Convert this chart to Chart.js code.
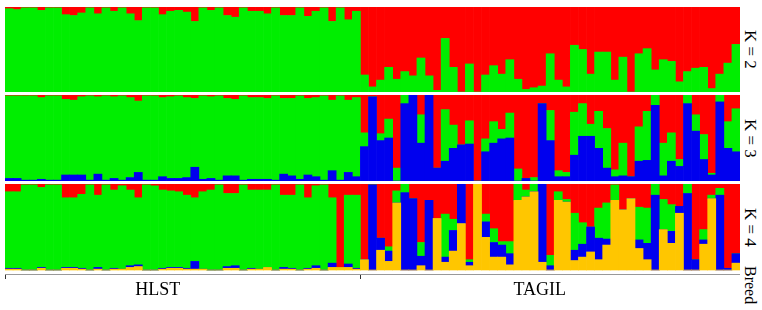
<!DOCTYPE html>
<html>
<head>
<meta charset="utf-8">
<script src="https://cdn.jsdelivr.net/npm/chart.js@4.4.1/dist/chart.umd.min.js"></script>
<style>
  body { margin: 0; background: #fff; width: 762px; height: 310px; position: relative; overflow: hidden; }
  canvas { position: absolute; }
  .klab { position: absolute; left: 741px; width: 18px; line-height: 18px; writing-mode: vertical-rl;
          text-align: center; font-family: "Liberation Serif", serif; font-size: 17px; color: #000; }
</style>
</head>
<body>
<canvas id="k2" width="735" height="85" style="left:5px;top:7px"></canvas>
<canvas id="k3" width="735" height="86" style="left:5px;top:95px"></canvas>
<canvas id="k4" width="735" height="126" style="left:5px;top:184px"></canvas>
<div class="klab" style="top:7px;height:85px">K = 2</div>
<div class="klab" style="top:95px;height:86px">K = 3</div>
<div class="klab" style="top:184px;height:86px">K = 4</div>
<div class="klab" style="top:266px;height:42px;font-size:16px;text-align:left">Breed</div>
<script>
'use strict';

var breeds = ['HLST', 'TAGIL'];
// where the breed names sit along the individuals axis (in bar index units)
var breedLabelAt = [18.4, 65.7];

// K = 2 (bottom to top: green, red)
var hlstK2Green = [0.98,0.97,0.99,0.99,0.96,0.99,0.99,0.91,0.9,0.93,0.99,0.92,0.99,0.95,0.99,0.92,0.84,0.99,0.99,0.91,0.95,0.96,0.94,0.83,0.99,0.96,0.99,0.9,0.88,0.99,0.95,0.95,0.92,0.99,0.9,0.9,0.99,0.89,0.95,0.99,0.83,0.99,0.85,0.95];
var hlstK2Red = [0.02,0.03,0.01,0.01,0.04,0.01,0.01,0.09,0.1,0.07,0.01,0.08,0.01,0.05,0.01,0.08,0.16,0.01,0.01,0.09,0.05,0.04,0.06,0.17,0.01,0.04,0.01,0.1,0.12,0.01,0.05,0.05,0.08,0.01,0.1,0.1,0.01,0.11,0.05,0.01,0.17,0.01,0.15,0.05];
var tagilK2Green = [0.2,0.06,0.14,0.29,0.15,0.24,0.19,0.4,0.19,0.02,0.63,0.29,0,0.33,0,0.2,0.31,0.21,0.38,0.15,0.03,0.05,0.07,0.45,0.14,0.06,0.55,0.5,0.21,0.47,0.47,0.14,0.41,0,0.45,0.51,0.26,0.38,0.36,0.12,0.24,0.28,0.29,0.04,0.21,0.34,0.56];
var tagilK2Red = [0.8,0.94,0.86,0.71,0.85,0.76,0.81,0.6,0.81,0.98,0.37,0.71,1,0.67,1,0.8,0.69,0.79,0.62,0.85,0.97,0.95,0.93,0.55,0.86,0.94,0.45,0.5,0.79,0.53,0.53,0.86,0.59,1,0.55,0.49,0.74,0.62,0.64,0.88,0.76,0.72,0.71,0.96,0.79,0.66,0.44];

// K = 3 (bottom to top: blue, green, red)
var hlstK3Blue = [0.03,0.03,0.01,0.01,0.02,0.01,0.01,0.07,0.07,0.07,0.01,0.08,0.01,0.03,0.01,0.04,0.1,0.01,0.01,0.05,0.03,0.03,0.04,0.16,0.02,0.03,0.01,0.06,0.06,0.01,0.02,0.02,0.02,0.01,0.08,0.06,0.02,0.07,0.05,0.01,0.12,0.01,0.1,0.05];
var hlstK3Green = [0.96,0.96,0.98,0.98,0.95,0.98,0.98,0.88,0.87,0.91,0.98,0.9,0.98,0.95,0.98,0.93,0.83,0.98,0.98,0.92,0.95,0.96,0.93,0.8,0.97,0.95,0.98,0.9,0.89,0.98,0.95,0.95,0.94,0.98,0.88,0.9,0.97,0.89,0.92,0.98,0.82,0.98,0.84,0.92];
var hlstK3Red = [0.01,0.01,0.01,0.01,0.03,0.01,0.01,0.05,0.06,0.02,0.01,0.02,0.01,0.02,0.01,0.03,0.07,0.01,0.01,0.03,0.02,0.01,0.03,0.04,0.01,0.02,0.01,0.04,0.05,0.01,0.03,0.03,0.04,0.01,0.04,0.04,0.01,0.04,0.03,0.01,0.06,0.01,0.06,0.03];
var tagilK3Blue = [0.4,0.98,0.47,0.5,0,0.9,1,0.44,1,0.15,0.23,0.38,0.42,0.43,0,0.34,0.44,0.49,0.5,0,0.03,0,0.9,0.47,0.05,0.05,0.3,0.52,0.52,0.38,0.15,0.05,0.06,0.05,0.23,0.24,0.88,0.06,0.23,0.17,0.9,0.58,0.25,0.07,0.92,0.38,0.34];
var tagilK3Green = [0.16,0,0.08,0.22,0.15,0.1,0,0.33,0,0,0.6,0.27,0,0.27,0,0.15,0.25,0.11,0.29,0.14,0,0.04,0,0.35,0.07,0.05,0.5,0.38,0.14,0.43,0.46,0.08,0.38,0,0.4,0.57,0.12,0.38,0.33,0.08,0.1,0.19,0.29,0.02,0.08,0.31,0.5];
var tagilK3Red = [0.44,0.02,0.45,0.28,0.85,0,0,0.23,0,0.85,0.17,0.35,0.58,0.3,1,0.51,0.31,0.4,0.21,0.86,0.97,0.96,0.1,0.18,0.88,0.9,0.2,0.1,0.34,0.19,0.39,0.87,0.56,0.95,0.37,0.19,0,0.56,0.44,0.75,0,0.23,0.46,0.91,0,0.31,0.16];

// K = 4 (bottom to top: yellow, blue, green, red)
var hlstK4Yellow = [0.01,0.01,0,0,0.02,0,0,0.02,0.02,0.01,0,0.01,0,0.01,0.01,0.03,0.04,0,0,0.01,0.02,0.02,0.01,0.01,0.01,0,0,0.02,0.02,0,0.01,0.01,0.03,0,0.01,0.01,0,0.01,0.02,0,0.03,0.03,0.03,0.01];
var hlstK4Blue = [0.01,0.01,0,0,0.01,0,0,0.01,0.01,0.01,0,0.02,0,0.01,0,0.02,0.02,0,0,0.01,0.01,0.01,0.01,0.09,0,0,0,0.02,0.03,0,0.01,0,0,0,0.02,0.01,0,0.01,0.03,0,0.05,0,0.04,0.01];
var hlstK4Green = [0.89,0.89,0.99,0.99,0.93,0.99,0.99,0.81,0.81,0.86,0.99,0.84,0.99,0.91,0.97,0.88,0.78,0.99,0.98,0.91,0.89,0.88,0.85,0.74,0.9,0.93,0.99,0.85,0.84,0.99,0.91,0.92,0.9,0.99,0.84,0.85,0.99,0.82,0.93,0.99,0.76,0,0.8,0.85];
var hlstK4Red = [0.09,0.09,0.01,0.01,0.04,0.01,0.01,0.16,0.16,0.12,0.01,0.13,0.01,0.07,0.02,0.07,0.16,0.01,0.02,0.07,0.08,0.09,0.13,0.16,0.09,0.07,0.01,0.11,0.11,0.01,0.07,0.07,0.07,0.01,0.13,0.13,0.01,0.16,0.02,0.01,0.16,0.97,0.13,0.13];
var tagilK4Yellow = [0.12,0,0.23,0.1,0.78,0,0,0.05,0,0.6,0.09,0.22,0.54,0.05,1,0.38,0.15,0.15,0.06,0.81,0.85,0.91,0.09,0,0.81,0.79,0.11,0.15,0.21,0.12,0.29,0.81,0.7,0.83,0.25,0.12,0,0.47,0.31,0.66,0,0,0.3,0.83,0,0,0.08];
var tagilK4Blue = [0,0.99,0.14,0.12,0,0.9,0.83,0.11,0.81,0,0.06,0.24,0.46,0.04,0,0.18,0.17,0.14,0.13,0,0,0,0.91,0.05,0,0,0.12,0.15,0.29,0.25,0.07,0,0,0,0.1,0.19,0.87,0,0.14,0.08,0.89,0.12,0.05,0,0.87,0.02,0.11];
var tagilK4Green = [0,0,0,0.05,0.14,0.1,0,0.16,0,0,0.5,0.13,0,0.03,0,0.09,0.16,0.04,0.14,0.19,0.08,0.09,0,0.12,0.1,0.03,0.43,0.25,0,0.35,0.42,0.18,0,0,0.38,0.41,0.13,0.35,0.31,0,0.11,0,0.12,0.04,0.08,0,0];
var tagilK4Red = [0.88,0.01,0.63,0.73,0.08,0,0.17,0.68,0.19,0.4,0.35,0.41,0,0.88,0,0.35,0.52,0.67,0.67,0,0.07,0,0,0.83,0.09,0.18,0.34,0.45,0.5,0.28,0.22,0.01,0.3,0.17,0.27,0.28,0,0.18,0.24,0.26,0,0.88,0.53,0.13,0.05,0.98,0.81];

var GREEN = '#00ee00';
var RED = '#ff0000';
var BLUE = '#0000ee';
var YELLOW = '#ffc600';

var individuals = [];
var breedOf = [];
hlstK2Green.forEach(function(v, i) { individuals.push('HLST ' + (i + 1)); breedOf.push(0); });
tagilK2Green.forEach(function(v, i) { individuals.push('TAGIL ' + (i + 1)); breedOf.push(1); });

function series(color, hlst, tagil) {
  return {
    data: hlst.concat(tagil),
    backgroundColor: color,
    borderWidth: 0,
    barPercentage: 1,
    categoryPercentage: 1
  };
}

// breed names under the last panel
var breedAxis = {
  id: 'breedAxis',
  afterDraw: function(chart) {
    var x = chart.scales.x;
    var ctx = chart.ctx;
    ctx.save();
    ctx.fillStyle = '#000';
    ctx.font = '18px "Liberation Serif"';
    ctx.textAlign = 'center';
    ctx.textBaseline = 'alphabetic';
    breeds.forEach(function(name, i) {
      ctx.fillText(name, x.getPixelForValue(breedLabelAt[i]), chart.chartArea.bottom + 21);
    });
    ctx.restore();
  }
};

function makePanel(id, datasets, withAxis) {
  var xScale = { display: false, stacked: true };
  if (withAxis) {
    var first = breedOf.indexOf(1);
    xScale = {
      display: true,
      stacked: true,
      grid: {
        offset: true,
        drawOnChartArea: false,
        drawTicks: true,
        tickLength: 5,
        color: function(c) {
          if (c.index === undefined || c.index === 0 || c.index === first) return '#333';
          return 'rgba(0,0,0,0)';
        }
      },
      border: { display: true, color: '#999', width: 1 },
      ticks: { display: false },
      afterFit: function(scale) { scale.height = 36; }
    };
  }
  return new Chart(document.getElementById(id), {
    type: 'bar',
    data: { labels: individuals, datasets: datasets },
    options: {
      responsive: false,
      animation: false,
      layout: { padding: 0 },
      plugins: { legend: { display: false }, tooltip: { enabled: false } },
      scales: {
        x: xScale,
        y: { display: false, stacked: true, min: withAxis ? -0.0465 : 0, max: 1 }
      }
    },
    plugins: withAxis ? [breedAxis] : []
  });
}

makePanel('k2', [
  series(GREEN, hlstK2Green, tagilK2Green),
  series(RED, hlstK2Red, tagilK2Red)
]);
makePanel('k3', [
  series(BLUE, hlstK3Blue, tagilK3Blue),
  series(GREEN, hlstK3Green, tagilK3Green),
  series(RED, hlstK3Red, tagilK3Red)
]);
makePanel('k4', [
  series(YELLOW, hlstK4Yellow, tagilK4Yellow),
  series(BLUE, hlstK4Blue, tagilK4Blue),
  series(GREEN, hlstK4Green, tagilK4Green),
  series(RED, hlstK4Red, tagilK4Red)
], true);
</script>
</body>
</html>
